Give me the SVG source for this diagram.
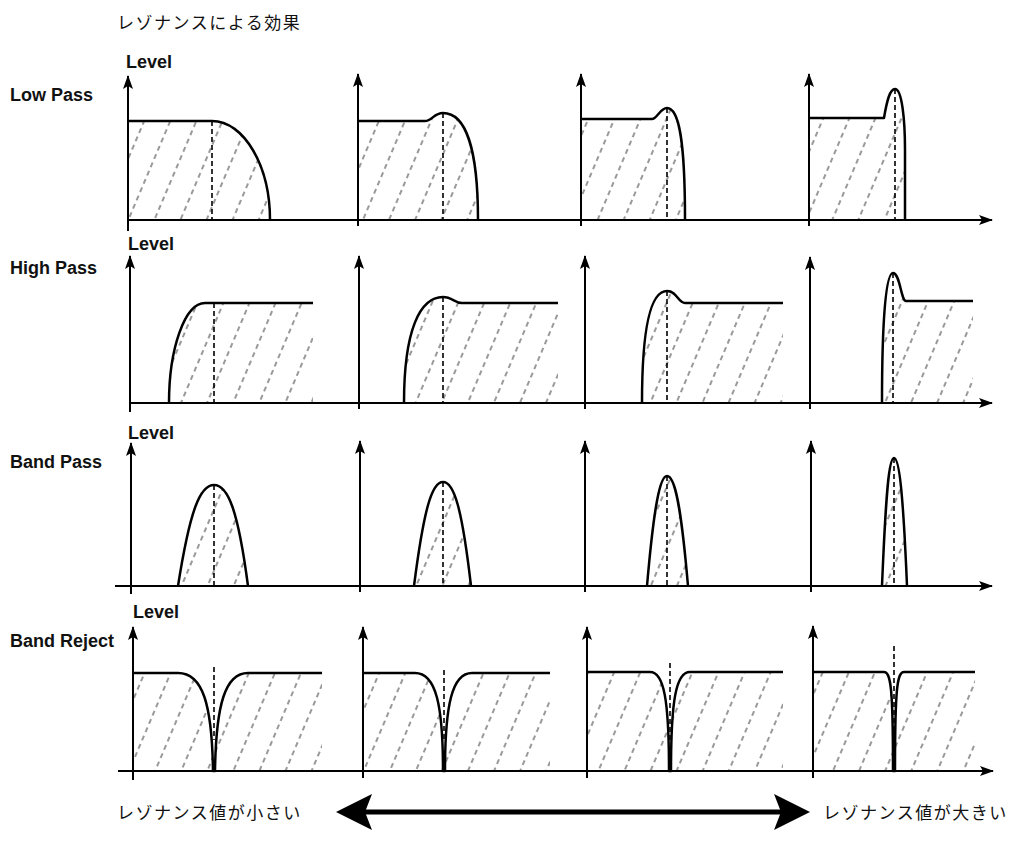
<svg xmlns="http://www.w3.org/2000/svg" width="1025" height="850" viewBox="0 0 1025 850">
<style>
.jp{font-family:"Liberation Sans","Noto Sans CJK JP",sans-serif;font-size:17px;letter-spacing:1.5px;fill:#111}
.lb{font-family:"Liberation Sans",Arial,sans-serif;font-size:18px;font-weight:bold;fill:#111}
.ax{stroke:#000;stroke-width:2;fill:none}
.cv{stroke:#000;stroke-width:2.5;fill:none;stroke-linejoin:round}
.hf{fill:url(#hatch);stroke:none}
.ctr{stroke:#000;stroke-width:1.6;stroke-dasharray:5 3;fill:none}
</style>
<defs>
<pattern id="hatch" patternUnits="userSpaceOnUse" width="24" height="9" patternTransform="rotate(23)">
<line x1="12" y1="0" x2="12" y2="9" stroke="#333" stroke-width="1" stroke-dasharray="5 4"/>
</pattern>
<marker id="ah" viewBox="0 0 14 10" refX="13" refY="5" markerWidth="14" markerHeight="10" markerUnits="userSpaceOnUse" orient="auto">
<path d="M0,0 L14,5 L0,10 L3,5 Z" fill="#000"/>
</marker>
</defs>
<rect width="1025" height="850" fill="#fff"/>
<text class="jp" x="117" y="29">レゾナンスによる効果</text>

<!-- Row labels -->
<text class="lb" x="126" y="68">Level</text>
<text class="lb" x="10" y="101">Low Pass</text>
<text class="lb" x="128" y="250">Level</text>
<text class="lb" x="10" y="274">High Pass</text>
<text class="lb" x="128" y="439">Level</text>
<text class="lb" x="10" y="468">Band Pass</text>
<text class="lb" x="133" y="618">Level</text>
<text class="lb" x="10" y="647">Band Reject</text>

<!-- Row 1: Low Pass -->
<g id="lp1">
<path class="hf" d="M128,220 V121 H212 C244,121 270,166 270,220 Z"/>
<path class="cv" d="M128,121 H212 C244,121 270,166 270,220"/>
<line class="ctr" x1="212" y1="121" x2="212" y2="220"/>
</g>
<g id="lp2">
<path class="hf" d="M358,220 V121 H425 C432,121 434,113 443,113 C466,113 478,150 478,220 Z"/>
<path class="cv" d="M358,121 H425 C432,121 434,113 443,113 C466,113 478,150 478,220"/>
<line class="ctr" x1="443" y1="113" x2="443" y2="220"/>
</g>
<g id="lp3">
<path class="hf" d="M581,220 V119 H652 C657,119 660,108 667,108 C679,108 685,140 685,220 Z"/>
<path class="cv" d="M581,119 H652 C657,119 660,108 667,108 C679,108 685,140 685,220"/>
<line class="ctr" x1="667" y1="108" x2="667" y2="220"/>
</g>
<g id="lp4">
<path class="hf" d="M809,220 V118 H884 C887,100 890,89 895,89 C902,89 905,120 905,150 L905,220 Z"/>
<path class="cv" d="M809,118 H884 C887,100 890,89 895,89 C902,89 905,120 905,150 L905,220"/>
<line class="ctr" x1="895" y1="89" x2="895" y2="220"/>
</g>

<!-- Row 2: High Pass -->
<g id="hp1">
<path class="hf" d="M169,403 C169,348 185,303 205,303 H313 V403 Z"/>
<path class="cv" d="M169,403 C169,348 185,303 205,303 H313"/>
<line class="ctr" x1="214" y1="303" x2="214" y2="403"/>
</g>
<g id="hp2">
<path class="hf" d="M404,403 C404,330 420,297 443,297 C452,297 455,303 462,303 H558 V403 Z"/>
<path class="cv" d="M404,403 C404,330 420,297 443,297 C452,297 455,303 462,303 H558"/>
<line class="ctr" x1="443" y1="297" x2="443" y2="403"/>
</g>
<g id="hp3">
<path class="hf" d="M642,403 C642,330 650,291 667,291 C677,291 678,303 685,303 H783 V403 Z"/>
<path class="cv" d="M642,403 C642,330 650,291 667,291 C677,291 678,303 685,303 H783"/>
<line class="ctr" x1="667" y1="291" x2="667" y2="403"/>
</g>
<g id="hp4">
<path class="hf" d="M882,403 C882,330 885,273 893,273 C900,273 901,301 906,301 H973 V403 Z"/>
<path class="cv" d="M882,403 C882,330 885,273 893,273 C900,273 901,301 906,301 H973"/>
<line class="ctr" x1="893" y1="273" x2="893" y2="403"/>
</g>

<!-- Row 3: Band Pass -->
<g id="bp1">
<path class="hf" d="M178,586 C190,510 200,485 214,485 C228,485 238,510 248,586 Z"/>
<path class="cv" d="M178,586 C190,510 200,485 214,485 C228,485 238,510 248,586"/>
<line class="ctr" x1="214" y1="485" x2="214" y2="586"/>
</g>
<g id="bp2">
<path class="hf" d="M414,586 C424,508 432,482 443,482 C454,482 462,508 471,586 Z"/>
<path class="cv" d="M414,586 C424,508 432,482 443,482 C454,482 462,508 471,586"/>
<line class="ctr" x1="443" y1="482" x2="443" y2="586"/>
</g>
<g id="bp3">
<path class="hf" d="M647,586 C654,505 660,476 667,476 C675,476 681,505 688,586 Z"/>
<path class="cv" d="M647,586 C654,505 660,476 667,476 C675,476 681,505 688,586"/>
<line class="ctr" x1="667" y1="476" x2="667" y2="586"/>
</g>
<g id="bp4">
<path class="hf" d="M882,586 C886,490 889,458 894,458 C899,458 903,490 907,586 Z"/>
<path class="cv" d="M882,586 C886,490 889,458 894,458 C899,458 903,490 907,586"/>
<line class="ctr" x1="894" y1="458" x2="894" y2="586"/>
</g>

<!-- Row 4: Band Reject -->
<g id="br1">
<path class="hf" d="M133,771 V673 H178 C203,673 212,705 213,771 Z M215,771 C216,705 225,673 248,673 H322 V771 Z"/>
<path class="cv" d="M133,673 H178 C203,673 212,705 213,771 L215,771 C216,705 225,673 248,673 H322"/>
<line class="ctr" x1="214" y1="667" x2="214" y2="740"/>
</g>
<g id="br2">
<path class="hf" d="M363,771 V673 H415 C436,673 443,705 443,771 Z M445,771 C445,705 452,673 472,673 H550 V771 Z"/>
<path class="cv" d="M363,673 H415 C436,673 443,705 443,771 L445,771 C445,705 452,673 472,673 H550"/>
<line class="ctr" x1="444" y1="670" x2="444" y2="740"/>
</g>
<g id="br3">
<path class="hf" d="M587,771 V672 H650 C664,672 669,700 669,771 Z M671,771 C671,700 676,672 690,672 H783 V771 Z"/>
<path class="cv" d="M587,672 H650 C664,672 669,700 669,771 L671,771 C671,700 676,672 690,672 H783"/>
<line class="ctr" x1="670" y1="663" x2="670" y2="740"/>
</g>
<g id="br4">
<path class="hf" d="M813,771 V672 H884 C891,672 893,690 893,771 Z M895,771 C895,690 897,672 904,672 H975 V771 Z"/>
<path class="cv" d="M813,672 H884 C891,672 893,690 893,771 L895,771 C895,690 897,672 904,672 H975"/>
<line class="ctr" x1="894" y1="646" x2="894" y2="735"/>
</g>

<!-- Axes -->
<g id="axes">
<line class="ax" x1="128" y1="220" x2="992" y2="220" marker-end="url(#ah)"/>
<line class="ax" x1="130" y1="403" x2="992" y2="403" marker-end="url(#ah)"/>
<line class="ax" x1="115" y1="586" x2="992" y2="586" marker-end="url(#ah)"/>
<line class="ax" x1="118" y1="771" x2="993" y2="771" marker-end="url(#ah)"/>

<line class="ax" x1="128" y1="231" x2="128" y2="76" marker-end="url(#ah)"/>
<line class="ax" x1="358" y1="226" x2="358" y2="74" marker-end="url(#ah)"/>
<line class="ax" x1="581" y1="226" x2="581" y2="74" marker-end="url(#ah)"/>
<line class="ax" x1="809" y1="226" x2="809" y2="74" marker-end="url(#ah)"/>

<line class="ax" x1="130" y1="412" x2="130" y2="256" marker-end="url(#ah)"/>
<line class="ax" x1="359" y1="409" x2="359" y2="256" marker-end="url(#ah)"/>
<line class="ax" x1="585" y1="409" x2="585" y2="256" marker-end="url(#ah)"/>
<line class="ax" x1="810" y1="409" x2="810" y2="257" marker-end="url(#ah)"/>

<line class="ax" x1="131" y1="594" x2="131" y2="443" marker-end="url(#ah)"/>
<line class="ax" x1="360" y1="592" x2="360" y2="441" marker-end="url(#ah)"/>
<line class="ax" x1="585" y1="592" x2="585" y2="441" marker-end="url(#ah)"/>
<line class="ax" x1="811" y1="592" x2="811" y2="441" marker-end="url(#ah)"/>

<line class="ax" x1="133" y1="780" x2="133" y2="627" marker-end="url(#ah)"/>
<line class="ax" x1="363" y1="778" x2="363" y2="627" marker-end="url(#ah)"/>
<line class="ax" x1="587" y1="778" x2="587" y2="627" marker-end="url(#ah)"/>
<line class="ax" x1="813" y1="778" x2="813" y2="626" marker-end="url(#ah)"/>
</g>

<!-- Bottom scale -->
<g id="scale">
<text class="jp" x="117" y="819">レゾナンス値が小さい</text>
<text class="jp" x="823" y="819">レゾナンス値が大きい</text>
<line x1="360" y1="812" x2="786" y2="812" stroke="#000" stroke-width="5"/>
<path d="M336,812 L372,794 L365,812 L372,830 Z" fill="#000"/>
<path d="M810,812 L774,794 L781,812 L774,830 Z" fill="#000"/>
</g>
</svg>
